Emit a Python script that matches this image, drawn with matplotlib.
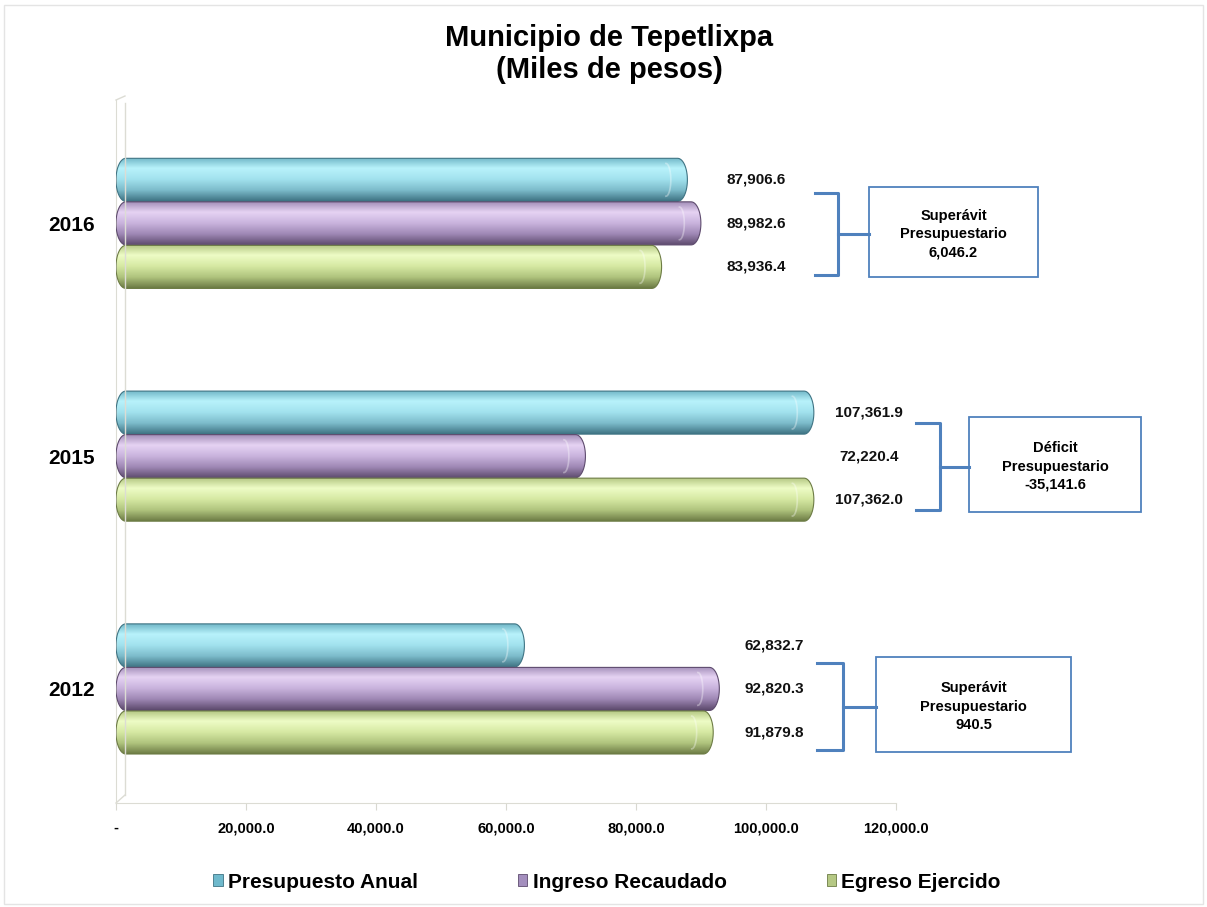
import numpy as np
import matplotlib
matplotlib.use('Agg')
from matplotlib import pyplot as plt
from matplotlib.path import Path as MPath
from matplotlib.patches import PathPatch, Patch, Rectangle
from matplotlib.lines import Line2D
from matplotlib.colors import to_rgb

plt.rcParams['font.family'] = ['Liberation Sans', 'DejaVu Sans']

years = ['2012', '2015', '2016']
series = ['Presupuesto Anual', 'Ingreso Recaudado', 'Egreso Ejercido']
presupuesto = [62832.7, 107361.9, 87906.6]
ingreso = [92820.3, 72220.4, 89982.6]
egreso = [91879.8, 107362.0, 83936.4]
balance_title = ['Superávit\nPresupuestario', 'Déficit\nPresupuestario', 'Superávit\nPresupuestario']
balance = [940.5, -35141.6, 6046.2]
xticks = [0, 20000, 40000, 60000, 80000, 100000, 120000]
xticklabels = ['-', '20,000.0', '40,000.0', '60,000.0', '80,000.0', '100,000.0', '120,000.0']

# gradient stops (top -> bottom) per series
shades = [
    ['#6cb3c4', '#b8f2fb', '#a2e2ee', '#7dbccb', '#3f7484'],
    ['#9f8ab5', '#e6d3f3', '#c9b3dd', '#9f88b5', '#5e4b6e'],
    ['#b0c47e', '#eefcc6', '#d6e9a3', '#b0c47e', '#6d7c45'],
]
mids = ['#6fb9cc', '#a48fbe', '#b5c884']

W, H = 1207, 907
fig = plt.figure(figsize=(W / 100, H / 100), dpi=100)
fig.patch.set_facecolor('white')


def fx(px):
    return px / W


def fy(py):
    return 1 - py / H


ax = fig.add_axes([fx(116), fy(803), fx(896) - fx(116), fy(100) - fy(803)])
ax.set_xlim(0, 120000)
ax.set_ylim(-0.49, 2.53)

bar_h = 0.185
offsets = [0.187, 0, -0.187]
rx = 1500  # cap radius in data units along x


def gradient(stops, n=100):
    cols = np.array([to_rgb(c) for c in stops])
    pos = np.linspace(0, 1, len(stops))
    t = np.linspace(0, 1, n)
    img = np.stack([np.interp(t, pos, cols[:, k]) for k in range(3)], axis=1)
    return img[:, None, :]


def capsule(x1, yc, h):
    th1 = np.linspace(np.pi / 2, 3 * np.pi / 2, 30)
    th2 = np.linspace(-np.pi / 2, np.pi / 2, 30)
    xs = np.concatenate([rx + rx * np.cos(th1), x1 - rx + rx * np.cos(th2)])
    ys = np.concatenate([yc + h / 2 * np.sin(th1), yc + h / 2 * np.sin(th2)])
    verts = np.column_stack([xs, ys])
    verts = np.vstack([verts, verts[:1]])
    codes = [MPath.MOVETO] + [MPath.LINETO] * (len(verts) - 2) + [MPath.CLOSEPOLY]
    return MPath(verts, codes)


data = [presupuesto, ingreso, egreso]
for si, vals in enumerate(data):
    img = gradient(shades[si])
    for gi, v in enumerate(vals):
        yc = gi + offsets[si]
        path = capsule(v, yc, bar_h)
        patch = PathPatch(path, facecolor='none', edgecolor=shades[si][4], lw=0.8, zorder=3)
        ax.add_patch(patch)
        im = ax.imshow(img, extent=[0, v, yc - bar_h / 2, yc + bar_h / 2],
                       aspect='auto', origin='upper', zorder=2, interpolation='bilinear')
        im.set_clip_path(patch)
        # end face highlight
        th = np.linspace(-np.pi / 2, np.pi / 2, 30)
        ax.plot(v - 2.2 * rx + rx * 0.5 * np.cos(th), yc + bar_h * 0.38 * np.sin(th),
                color='white', alpha=0.35, lw=1.2, zorder=4)

# value labels
for gi in range(len(years)):
    lx = max(presupuesto[gi], ingreso[gi], egreso[gi]) + 8500
    for si, vals in enumerate(data):
        ax.text(lx, gi + offsets[si], f'{vals[gi]:,.1f}', ha='center', va='center',
                fontsize=11, fontweight='bold', color='#111111')

ax.set_yticks(range(len(years)))
ax.set_yticklabels(years, fontsize=15, fontweight='bold')
ax.tick_params(axis='y', length=0, pad=15)
ax.set_xticks(xticks)
ax.set_xticklabels(xticklabels, fontsize=10.5, fontweight='bold')
ax.tick_params(axis='x', length=5, color='#d8d8d0', pad=8)
for s in ['top', 'right']:
    ax.spines[s].set_visible(False)
ax.spines['left'].set_color('#dcdcd4')
ax.spines['bottom'].set_color('#dcdcd4')
ax.patch.set_alpha(0)

# wall depth lines
fig.add_artist(Line2D([fx(125), fx(125)], [fy(103), fy(795)], color='#dcdcd4', lw=1))
fig.add_artist(Line2D([fx(116), fx(125)], [fy(100), fy(96)], color='#dcdcd4', lw=1))
fig.add_artist(Line2D([fx(116), fx(125)], [fy(803), fy(795)], color='#dcdcd4', lw=1))

# balance brackets and boxes
box_geo = [  # (bracket left, bracket x, top, bottom, box left, box right)
    (817, 843, 663, 750, 876, 1071),
    (916, 940, 423, 510, 969, 1141),
    (815, 838, 193, 275, 869, 1038),
]
bcol = '#4f81bd'
for gi, (bl, bx, bt, bb, xl, xr) in enumerate(box_geo):
    ym = (bt + bb) / 2
    fig.add_artist(Line2D([fx(bl), fx(bx), fx(bx), fx(bl)], [fy(bt), fy(bt), fy(bb), fy(bb)],
                          color=bcol, lw=2.2))
    fig.add_artist(Line2D([fx(bx), fx(xl)], [fy(ym), fy(ym)], color=bcol, lw=2.2))
    fig.add_artist(Rectangle((fx(xl), fy(bb + 2)), fx(xr) - fx(xl), fy(bt - 6) - fy(bb + 2),
                             transform=fig.transFigure, facecolor='white', edgecolor=bcol, lw=1.3))
    fig.text(fx((xl + xr) / 2), fy(ym), f'{balance_title[gi]}\n{balance[gi]:,.1f}',
             ha='center', va='center', fontsize=10.5, fontweight='bold', linespacing=1.4)

fig.text(0.505, fy(54), 'Municipio de Tepetlixpa\n(Miles de pesos)', ha='center', va='center',
         fontsize=21, fontweight='bold', linespacing=1.15)

handles = [Patch(facecolor=mids[i], edgecolor=shades[i][4], lw=0.6) for i in range(3)]
fig.legend(handles, series, loc='center', bbox_to_anchor=(0.503, fy(882)), ncol=3,
           frameon=False, handlelength=0.45, handleheight=0.45, handletextpad=0.25,
           columnspacing=4.8, prop={'size': 15, 'weight': 'bold'})

fig.add_artist(Rectangle((0.003, 0.003), 0.994, 0.992, transform=fig.transFigure,
                         facecolor='none', edgecolor='#e4e4e4', lw=1))

fig.savefig('out.png', dpi=100)
